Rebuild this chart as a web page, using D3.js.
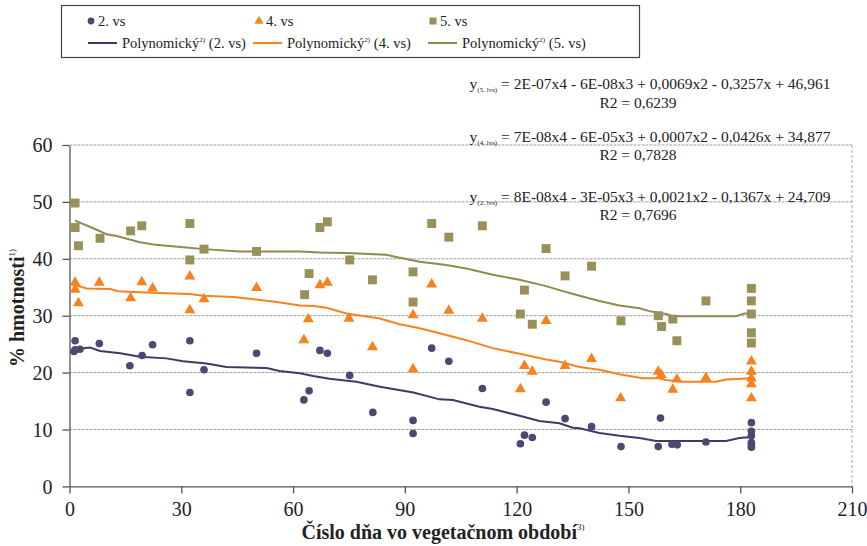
<!DOCTYPE html>
<html>
<head>
<meta charset="utf-8">
<script src="https://cdn.jsdelivr.net/npm/d3@7"></script>
<style>
  body { margin: 0; background: #fff; }
  svg { font-family: "Liberation Serif", "DejaVu Serif", "Times New Roman", serif; }
</style>
</head>
<body>
<div id="chart"></div>
<script>
// values: [day, % hmotnosti]
var series2 = [[1.2,23.7],[1.5,25.6],[1.5,24.0],[2.8,24.1],[8,25.1],[16.2,21.2],[19.5,23.0],[22.3,24.9],[32.3,25.6],[32.3,16.5],
  [36.1,20.5],[50.2,23.4],[62.9,15.2],[64.3,16.8],[67.2,23.9],[69.2,23.4],[75.2,19.5],[81.4,13.0],[92.2,11.6],[92.2,9.3],
  [97.2,24.3],[101.8,22.0],[110.8,17.2],[121,7.5],[122.1,9.0],[124.2,8.6],[127.9,14.8],[133,11.9],[140.1,10.5],[148,7.0],
  [158,7.0],[158.6,12.0],[161.7,7.4],[163.1,7.3],[170.8,7.8],[183,11.2],[183,9.7],[183,8.9],[183,7.7],[183,7.3],[183,6.9]];
var series4 = [[1.5,35.8],[1.5,34.6],[2.4,32.2],[8,35.8],[16.4,33.1],[19.4,35.9],[22.3,34.8],[32.3,36.9],[32.3,31.0],[36.1,32.9],
  [50.2,34.9],[62.9,25.7],[64.1,29.4],[67.2,35.4],[69.2,35.8],[75,29.5],[81.3,24.5],[92.2,30.1],[92.2,20.6],[97.2,35.5],
  [101.8,30.9],[110.8,29.5],[121,17.1],[122.1,21.2],[124.2,20.2],[127.9,29.1],[133,21.2],[140.1,22.4],[147.9,15.5],[158,20.2],
  [158.8,19.6],[161.9,17.0],[163,18.8],[170.8,19.1],[183,22.0],[183,20.2],[183,19.0],[183,18.0],[183,15.5]];
var series5 = [[1.5,49.8],[1.5,45.5],[2.4,42.3],[8.2,43.6],[16.4,44.9],[19.4,45.8],[32.3,46.2],[32.3,39.8],[36.1,41.7],[50.2,41.3],
  [63.1,33.7],[64.3,37.4],[67.2,45.5],[69.2,46.5],[75.2,39.8],[81.3,36.3],[92.2,37.7],[92.2,32.4],[97.2,46.2],[101.8,43.8],
  [110.8,45.8],[121,30.3],[122.1,34.5],[124.2,28.5],[127.9,41.8],[133,37.0],[140.1,38.7],[148,29.1],[158,30.0],[158.9,28.1],
  [161.9,29.4],[163,25.6],[170.8,32.6],[183,34.8],[183,32.6],[183,30.3],[183,27.0],[183,25.2]];

// trend lines as drawn (Polynomický)
var trend2 = [[1.5,24.1],[5.5,24.4],[8.2,23.8],[13.6,23.4],[18.9,22.8],[26,22.5],[30.5,22.0],[36.8,21.6],[42.1,21.0],[52.9,20.8],
  [56.4,20.3],[61.8,19.9],[65.4,19.4],[69.8,18.9],[77,18.4],[83.3,17.5],[92.3,16.5],[99.3,15.3],[102.9,15.2],[110,14.0],
  [113.6,13.6],[120.8,12.4],[126.1,11.5],[131.5,11.1],[135.1,10.3],[136.9,10.2],[142.2,9.4],[147.6,8.9],[153,8.5],[157.4,8.0],
  [176.2,8.0],[179.8,8.5],[183,8.7]];
var trend4 = [[1.5,35.4],[4.6,34.8],[11,34.7],[13,34.3],[18.9,34.1],[24,34.0],[32.3,33.8],[35.9,33.5],[44,33.3],[49.4,32.9],
  [55.6,32.4],[61.8,31.8],[65.4,31.7],[69,31.4],[74.3,30.4],[83.3,29.5],[88.6,28.5],[94,27.8],[99.3,26.9],[106.5,25.7],
  [113.6,24.3],[120.8,23.3],[127.9,22.3],[131.5,21.9],[136.9,21.0],[142.2,20.5],[147.6,19.7],[153.8,19.0],[158.3,19.0],[160.1,18.7],
  [164.6,18.4],[173.5,18.4],[176.2,18.8],[183,19.0]];
var trend5 = [[1.5,46.7],[7.3,45.1],[10,44.3],[12.7,44.0],[18.9,42.9],[22.5,42.5],[26,42.3],[31.4,42.0],[35.9,41.7],[45.7,41.3],
  [61.8,41.3],[67.2,41.1],[74.3,41.0],[85,40.7],[87.7,40.3],[94,39.5],[101.1,38.9],[106.5,38.3],[113.6,37.2],[120.8,36.3],
  [127.9,35.2],[131.5,34.5],[136.9,33.5],[142.2,32.6],[147.6,31.8],[153,31.3],[155.6,30.8],[160.1,30.3],[161.9,29.9],[178.9,29.9],
  [181.1,30.4],[183,30.4]];

var xTicks = [0, 30, 60, 90, 120, 150, 180, 210];
var yTicks = [0, 10, 20, 30, 40, 50, 60];

var equations = [
  {sub: '(5. lvs)', eq: ' = 2E-07x4 - 6E-08x3 + 0,0069x2 - 0,3257x + 46,961', r2: 'R2 = 0,6239'},
  {sub: '(4. lvs)', eq: ' = 7E-08x4 - 6E-05x3 + 0,0007x2 - 0,0426x + 34,877', r2: 'R2 = 0,7828'},
  {sub: '(2. lvs)', eq: ' = 8E-08x4 - 3E-05x3 + 0,0021x2 - 0,1367x + 24,709', r2: 'R2 = 0,7696'}
];

var COL2 = '#4b4873', LINE2 = '#3e3a69';
var COL4 = '#f7821e', LINE4 = '#f7821e';
var COL5 = '#99915a', LINE5 = '#8e8a50';

var width = 867, height = 546;
var svg = d3.select('#chart').append('svg')
  .attr('width', width)
  .attr('height', height);

var x = d3.scaleLinear().domain([0, 210]).range([69.5, 852]);
var y = d3.scaleLinear().domain([0, 60]).range([486.4, 145]);

// grid
svg.append('g').selectAll('line')
  .data(yTicks.filter(function(d) { return d > 0; }))
  .enter().append('line')
  .attr('x1', x(0)).attr('x2', x(210))
  .attr('y1', function(d) { return y(d); })
  .attr('y2', function(d) { return y(d); })
  .attr('stroke', '#a0a0a0')
  .attr('stroke-width', 1)
  .attr('stroke-dasharray', '3,1');

// right border of plot area
svg.append('line')
  .attr('x1', x(210)).attr('x2', x(210))
  .attr('y1', y(60)).attr('y2', y(0))
  .attr('stroke', '#aaa')
  .attr('stroke-dasharray', '3,2');

// axes
var xAxis = d3.axisBottom(x).tickValues(xTicks).tickSize(7).tickSizeOuter(0);
var yAxis = d3.axisLeft(y).tickValues(yTicks).tickSize(7).tickSizeOuter(0);

var gx = svg.append('g')
  .attr('transform', 'translate(0,' + y(0) + ')')
  .call(xAxis);
var gy = svg.append('g')
  .attr('transform', 'translate(' + x(0) + ',0)')
  .call(yAxis);

[gx, gy].forEach(function(g) {
  g.select('.domain').attr('stroke', '#555').attr('stroke-width', 1.3);
  g.selectAll('.tick line').attr('stroke', '#555').attr('stroke-width', 1.3);
  g.selectAll('.tick text')
    .attr('fill', '#222')
    .style('font-family', '"Liberation Serif", "DejaVu Serif", serif')
    .style('font-size', '20px');
});
gx.selectAll('.tick text').attr('dy', '1.0em');
gy.selectAll('.tick text').attr('x', -17).attr('dy', '0.34em');

// trend lines
var line = d3.line()
  .x(function(d) { return x(d[0]); })
  .y(function(d) { return y(d[1]); });

[[trend5, LINE5], [trend4, LINE4], [trend2, LINE2]].forEach(function(t) {
  svg.append('path')
    .datum(t[0])
    .attr('fill', 'none')
    .attr('stroke', t[1])
    .attr('stroke-width', 2)
    .attr('d', line);
});

// markers
var circleSym = d3.symbol().type(d3.symbolCircle).size(46);
var triSym = d3.symbol().type(d3.symbolTriangle).size(52);
var sqSym = d3.symbol().type(d3.symbolSquare).size(80);

function drawPoints(data, sym, color) {
  svg.append('g').selectAll('path')
    .data(data)
    .enter().append('path')
    .attr('transform', function(d) { return 'translate(' + x(d[0]) + ',' + y(d[1]) + ')'; })
    .attr('d', sym)
    .attr('fill', color);
}
drawPoints(series5, sqSym, COL5);
drawPoints(series4, triSym, COL4);
drawPoints(series2, circleSym, COL2);

// axis titles
var xt = svg.append('text')
  .attr('x', 443).attr('y', 539)
  .attr('text-anchor', 'middle')
  .style('font-weight', 'bold')
  .style('font-size', '20px')
  .attr('fill', '#222');
xt.append('tspan').text('Číslo dňa vo vegetačnom období');
xt.append('tspan').attr('dy', -9).style('font-size', '9px').style('font-weight', 'normal').text('3)');

var yt = svg.append('text')
  .attr('transform', 'translate(24,308) rotate(-90)')
  .attr('text-anchor', 'middle')
  .style('font-weight', 'bold')
  .style('font-size', '20px')
  .attr('fill', '#222');
yt.append('tspan').text('% hmotnosti');
yt.append('tspan').attr('dy', -9).style('font-size', '9px').style('font-weight', 'normal').text('1)');

// equations
var eqBase = [89, 141.5, 201.5];
var r2Base = [107.5, 160, 220];
equations.forEach(function(e, i) {
  var t = svg.append('text')
    .attr('x', 650).attr('y', eqBase[i])
    .attr('text-anchor', 'middle')
    .style('font-size', '15.5px')
    .attr('fill', '#222');
  t.append('tspan').text('y');
  t.append('tspan').attr('dy', 3).style('font-size', '7px').text(e.sub);
  t.append('tspan').attr('dy', -3).text(e.eq);
  svg.append('text')
    .attr('x', 638).attr('y', r2Base[i])
    .attr('text-anchor', 'middle')
    .style('font-size', '15.5px')
    .attr('fill', '#222')
    .text(e.r2);
});

// legend
var legend = svg.append('g');
legend.append('rect')
  .attr('x', 61.5).attr('y', 5.5)
  .attr('width', 578).attr('height', 52)
  .attr('fill', '#fff')
  .attr('stroke', '#444')
  .attr('stroke-width', 1.2);

var legendItems = [
  {sx: 91, lx: 88, sym: circleSym, col: COL2, line: LINE2, name: '2. vs'},
  {sx: 259, lx: 253, sym: triSym, col: COL4, line: LINE4, name: '4. vs'},
  {sx: 433, lx: 428, sym: sqSym, col: COL5, line: LINE5, name: '5. vs'}
];
legendItems.forEach(function(it) {
  legend.append('path')
    .attr('transform', 'translate(' + it.sx + ',21)')
    .attr('d', it.sym.size(it.sym === sqSym ? 50 : 36))
    .attr('fill', it.col);
  legend.append('text')
    .attr('x', it.sx + 7).attr('y', 26)
    .style('font-size', '14.5px')
    .attr('fill', '#222')
    .text(it.name);
  legend.append('line')
    .attr('x1', it.lx).attr('x2', it.lx + 29)
    .attr('y1', 43).attr('y2', 43)
    .attr('stroke', it.line)
    .attr('stroke-width', 2);
  var lt = legend.append('text')
    .attr('x', it.lx + 34).attr('y', 48)
    .style('font-size', '14.5px')
    .attr('fill', '#222');
  lt.append('tspan').text('Polynomický');
  lt.append('tspan').attr('dy', -6).style('font-size', '7px').text('2)');
  lt.append('tspan').attr('dy', 6).text(' (' + it.name + ')');
});
</script>
</body>
</html>
